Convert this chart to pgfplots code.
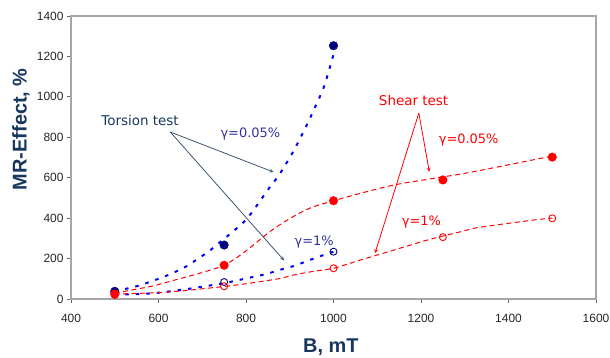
\documentclass[border=0pt]{standalone}
\usepackage{fontspec}
\setmainfont{Liberation Sans}
\newfontfamily\dejavu{DejaVu Sans}
\usepackage{pgfplots}
\pgfplotsset{compat=1.18}
\definecolor{navymark}{RGB}{0,0,128}
\definecolor{titlenavy}{RGB}{23,55,94}
\definecolor{gammanavy}{RGB}{51,51,160}
\definecolor{arrowslate}{RGB}{60,86,112}
\begin{document}
\begin{tikzpicture}
\begin{axis}[
  name=main,
  scale only axis,
  width=525bp, height=283bp,
  xmin=400, xmax=1600, ymin=0, ymax=1400,
  xtick={400,600,...,1600},
  ytick={0,200,...,1400},
  tick pos=left,
  tick align=outside,
  major tick length=4bp,
  tick style={gray!80!black, line width=0.8pt},
  x axis line style={black, line width=0.9pt},
  y axis line style={gray!70, line width=1.2pt},
  /pgf/number format/assume math mode=true,
  /pgf/number format/1000 sep={},
  ticklabel style={font=\fontsize{12}{12}\selectfont, text=black!85},
  xticklabel style={yshift=-8bp},
  clip=false,
]
% trend curves
\addplot[blue, line width=2bp, dash pattern=on 3.5bp off 7bp, smooth] coordinates {
(500,40) (531,53) (558,68) (583,87) (610,108) (637,133) (665,163) (688,196) (714,234) (740,280) (768,330) (795,381) (814,430) (833,488) (854,552) (875,612) (905,718) (932,830) (957,945) (979,1055) (1000,1210)};
\addplot[blue, line width=2bp, dash pattern=on 3.5bp off 7bp, smooth] coordinates {
(500,22) (530,23) (558,25) (585,28) (611,34) (638,41) (665,49) (692,58) (718,67) (750,78) (773,89) (801,102) (829,115) (852,127) (882,147) (909,163) (940,188) (966,209) (1000,234)};
\addplot[red, line width=1bp, dash pattern=on 5bp off 3.5bp, smooth] coordinates {
(500,28) (540,45) (588,65) (634,92) (665,110) (695,128) (726,148) (750,167) (779,205) (810,255) (837,303) (863,346) (894,390) (924,427) (955,457) (1000,486) (1062,523) (1138,564) (1215,592) (1291,618) (1321,630) (1398,663) (1474,696) (1500,705)};
\addplot[red, line width=1bp, dash pattern=on 5bp off 3.5bp, smooth] coordinates {
(500,22) (524,26) (596,31) (657,41) (711,53) (750,62) (802,76) (833,86) (879,102) (909,119) (955,137) (1000,152) (1062,193) (1138,242) (1215,292) (1291,333) (1321,350) (1398,374) (1474,395) (1500,400)};
% markers
\addplot[only marks, mark=*, mark size=4.3bp, draw=navymark, fill=navymark] coordinates {(500,38) (750,267) (1000,1253)};
\addplot[only marks, mark=o, mark size=3.5bp, draw=navymark, line width=0.9bp, fill=white] coordinates {(500,33) (750,84) (1000,234)};
\addplot[only marks, mark=*, mark size=4.3bp, draw=red, fill=red] coordinates {(500,25) (750,167) (1000,486) (1250,589) (1500,702)};
\addplot[only marks, mark=o, mark size=3.5bp, draw=red, line width=0.9bp, fill=white] coordinates {(500,20) (750,63) (1000,152) (1250,306) (1500,399)};
% annotations
\draw[arrowslate, line width=0.8bp, -stealth] (axis cs:627,826) -- (axis cs:863,628);
\draw[arrowslate, line width=0.8bp, -stealth] (axis cs:627,826) -- (axis cs:887,191);
\draw[red, line width=0.8bp, -stealth] (axis cs:1195,920) -- (axis cs:1219,630);
\draw[red, line width=0.8bp, -stealth] (axis cs:1195,920) -- (axis cs:1095,227);
\node[text=titlenavy, font=\dejavu\fontsize{13.5}{13.5}\selectfont] at (axis cs:558,881) {Torsion test};
\node[text=gammanavy, font=\dejavu\fontsize{13}{13}\selectfont] at (axis cs:810,816) {γ=0.05\%};
\node[text=gammanavy, font=\dejavu\fontsize{13}{13}\selectfont] at (axis cs:956,284) {γ=1\%};
\node[text=red, font=\dejavu\fontsize{13.5}{13.5}\selectfont] at (axis cs:1183,980) {Shear test};
\node[text=red, font=\dejavu\fontsize{13}{13}\selectfont] at (axis cs:1309,787) {γ=0.05\%};
\node[text=red, font=\dejavu\fontsize{13}{13}\selectfont] at (axis cs:1201,382) {γ=1\%};
% axis labels
\node[rotate=90, text=titlenavy, font=\bfseries\fontsize{20}{20}\selectfont] at ([xshift=-50bp]rel axis cs:0,0.6) {MR-Effect, \%};
\node[text=titlenavy, font=\bfseries\fontsize{20}{20}\selectfont] at ([yshift=-48bp]rel axis cs:0.495,0) {B, mT};
\end{axis}
\pgfresetboundingbox
\path (main.south west) ++(-71bp,-59bp) rectangle ++(610bp,358bp);
\end{tikzpicture}
\end{document}
